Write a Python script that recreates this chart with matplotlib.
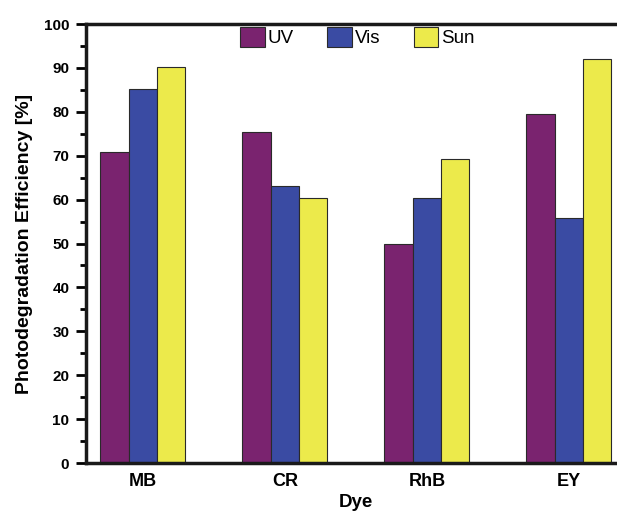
import numpy as np
import matplotlib
matplotlib.use('Agg')
import matplotlib.pyplot as plt
from matplotlib.ticker import MultipleLocator

plt.rcParams['font.family'] = ['Liberation Sans', 'DejaVu Sans']

# data
dyes = ['MB', 'CR', 'RhB', 'EY']
uv = [70.8, 75.5, 49.9, 79.5]
vis = [85.3, 63.2, 60.4, 55.8]
sun = [90.3, 60.4, 69.2, 92.0]

series = [('UV', uv, '#7a236f'), ('Vis', vis, '#3a4ba3'), ('Sun', sun, '#ecea4b')]

fig = plt.figure(figsize=(6.17, 5.14), dpi=100)
ax = fig.add_axes([0.1394, 0.0992, 0.8746, 0.854])

x = np.arange(1, len(dyes) + 1)
w = 0.2
for i, (name, vals, col) in enumerate(series):
    ax.bar(x + (i - 1) * w, vals, width=w, color=col, edgecolor='#2a2a2a',
           linewidth=0.8, label=name)

ax.set_xlim(0.6, 4.4)
ax.set_ylim(0, 100)
ax.set_xticks(x)
ax.set_xticklabels(dyes, fontsize=13, fontweight='bold')
ax.yaxis.set_major_locator(MultipleLocator(10))
ax.yaxis.set_minor_locator(MultipleLocator(5))
for lab in ax.get_yticklabels():
    lab.set_fontweight('bold')
    lab.set_fontsize(11)

ax.tick_params(axis='y', which='major', direction='out', length=7, width=2, pad=5)
ax.tick_params(axis='y', which='minor', direction='out', length=4.3, width=2)
ax.tick_params(axis='x', which='major', length=0, pad=7)

ax.spines['right'].set_visible(False)
for s in ['left', 'bottom', 'top']:
    ax.spines[s].set_linewidth(2.5)
    ax.spines[s].set_color('#1a1a1a')

ax.set_ylabel('Photodegradation Efficiency [%]', fontsize=14, fontweight='bold', labelpad=8)
ax.set_xlabel('Dye', fontsize=13.5, fontweight='bold', labelpad=3)

ax.legend(loc='upper center', bbox_to_anchor=(0.503, 1.02), ncol=3, frameon=False,
          fontsize=13.5, handlelength=1.3, handleheight=1.3, handletextpad=0.15,
          columnspacing=1.8, borderaxespad=0.2)

fig.savefig('out.png', dpi=100)
